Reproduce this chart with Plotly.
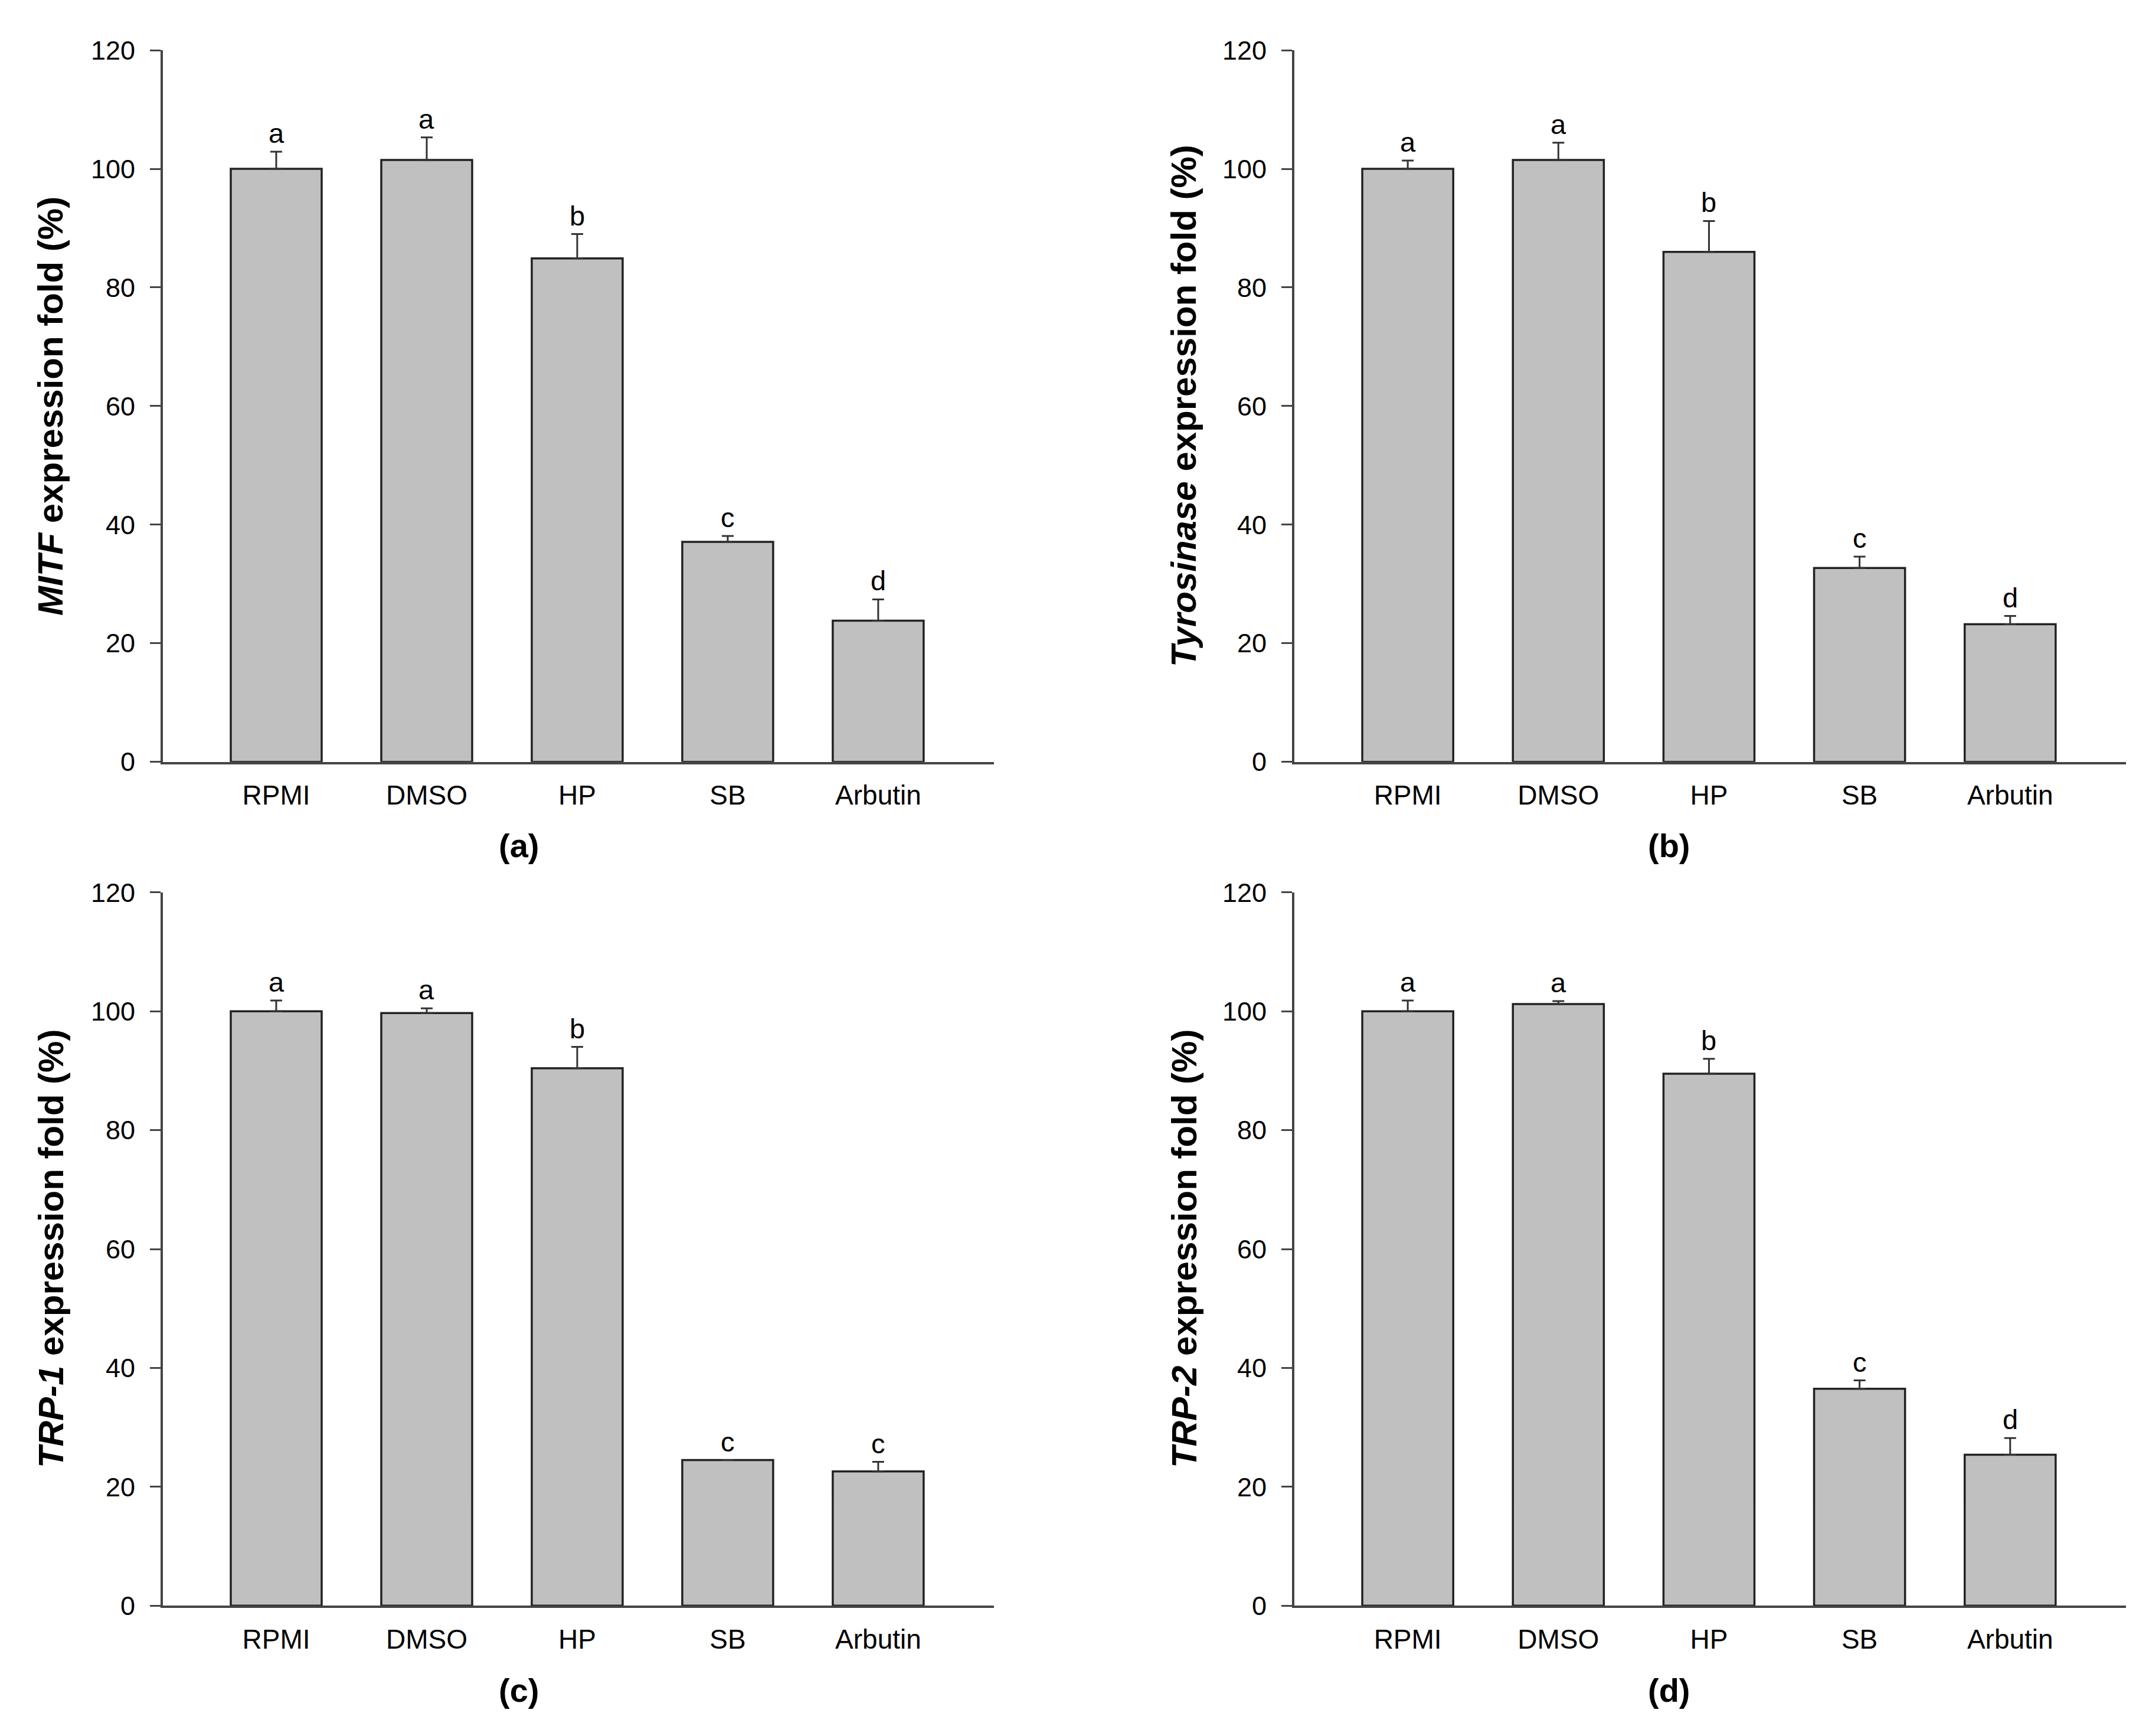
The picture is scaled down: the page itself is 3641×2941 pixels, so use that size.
import plotly.graph_objects as go

categories = ["RPMI", "DMSO", "HP", "SB", "Arbutin"]
y_ticks = [0, 20, 40, 60, 80, 100, 120]

mitf = [100.0, 101.5, 84.9, 37.1, 23.8]
mitf_err = [2.9, 3.8, 4.1, 1.0, 3.6]
mitf_letters = ["a", "a", "b", "c", "d"]

tyr = [100.0, 101.5, 86.0, 32.7, 23.2]
tyr_err = [1.4, 2.9, 5.2, 1.9, 1.4]
tyr_letters = ["a", "a", "b", "c", "d"]

trp1 = [100.0, 99.7, 90.4, 24.5, 22.6]
trp1_err = [1.8, 0.8, 3.6, 0.0, 1.6]
trp1_letters = ["a", "a", "b", "c", "c"]

trp2 = [100.0, 101.2, 89.5, 36.5, 25.4]
trp2_err = [1.8, 0.5, 2.5, 1.4, 2.8]
trp2_letters = ["a", "a", "b", "c", "d"]

gene_names = ["MITF", "Tyrosinase", "TRP-1", "TRP-2"]
panel_labels = ["(a)", "(b)", "(c)", "(d)"]

# page body has an 8px margin; figure is sized to fit inside it
OFF = 8
W, H = 3641 - 2 * OFF, 2941 - 2 * OFF
FONT = "Arial, Liberation Sans, sans-serif"
AXC = "#444444"


def px(v):
    return (v - OFF) / W


def py(v):
    return 1 - (v - OFF) / H


panels = [
    (mitf, mitf_err, mitf_letters),
    (tyr, tyr_err, tyr_letters),
    (trp1, trp1_err, trp1_letters),
    (trp2, trp2_err, trp2_letters),
]

# screen-pixel geometry of each panel
xdoms = [(276, 1684), (2193, 3602), (276, 1684), (2193, 3602)]
ydoms = [(61, 1288), (61, 1288), (1513, 2743), (1513, 2743)]
title_x = [86, 2006, 86, 2006]
label_x = [879, 2828, 879, 2828]
label_y = [1432, 1432, 2889, 2889]

fig = go.Figure()
layout = dict(
    width=W, height=H,
    margin=dict(l=0, r=0, t=0, b=0),
    paper_bgcolor="white", plot_bgcolor="white",
    showlegend=False,
    font=dict(family=FONT, color="black", size=44),
    annotations=[],
)

for i, (vals, errs, letters) in enumerate(panels):
    n = "" if i == 0 else str(i + 1)
    xa, ya = "x" + n, "y" + n
    fig.add_trace(go.Bar(
        x=categories, y=vals, xaxis=xa, yaxis=ya, width=0.604,
        marker=dict(color="#c0c0c0", line=dict(color="#222222", width=3.5)),
        error_y=dict(type="data", symmetric=False, array=errs,
                     arrayminus=[0] * len(errs), color="#333333",
                     thickness=3, width=10, visible=True),
    ))
    x0, x1 = xdoms[i]
    t, b = ydoms[i]
    layout["xaxis" + n] = dict(
        domain=[px(x0), px(x1)], anchor=ya, type="category",
        range=[-0.753, 4.769], showline=True, linecolor=AXC, linewidth=4,
        ticks="", showgrid=False, zeroline=False,
        tickfont=dict(size=46, family=FONT, color="black"),
        ticklabelstandoff=13,
    )
    layout["yaxis" + n] = dict(
        domain=[py(b), py(t)], anchor=xa,
        range=[0, 120], tickvals=y_ticks, showline=True, linecolor=AXC,
        linewidth=4, ticks="outside", ticklen=18, tickwidth=3, tickcolor=AXC,
        showgrid=False, zeroline=False,
        tickfont=dict(size=45, family=FONT, color="black"),
        ticklabelstandoff=16,
    )
    for c, v, e, L in zip(categories, vals, errs, letters):
        layout["annotations"].append(dict(
            x=c, y=v + e, xref=xa, yref=ya, text=L, showarrow=False,
            yanchor="bottom", yshift=3,
            font=dict(size=47, family=FONT, color="black"),
        ))
    layout["annotations"].append(dict(
        x=px(title_x[i]), y=py((t + b) / 2), xref="paper", yref="paper",
        text="<b><i>%s</i> expression fold (%%)</b>" % gene_names[i],
        textangle=-90, showarrow=False, xanchor="center", yanchor="middle",
        font=dict(size=60, family=FONT, color="black"),
    ))
    layout["annotations"].append(dict(
        x=px(label_x[i]), y=py(label_y[i]), xref="paper", yref="paper",
        text="<b>%s</b>" % panel_labels[i], showarrow=False,
        xanchor="center", yanchor="middle",
        font=dict(size=56, family=FONT, color="black"),
    ))

fig.update_layout(**layout)
fig.write_html("out.html")
